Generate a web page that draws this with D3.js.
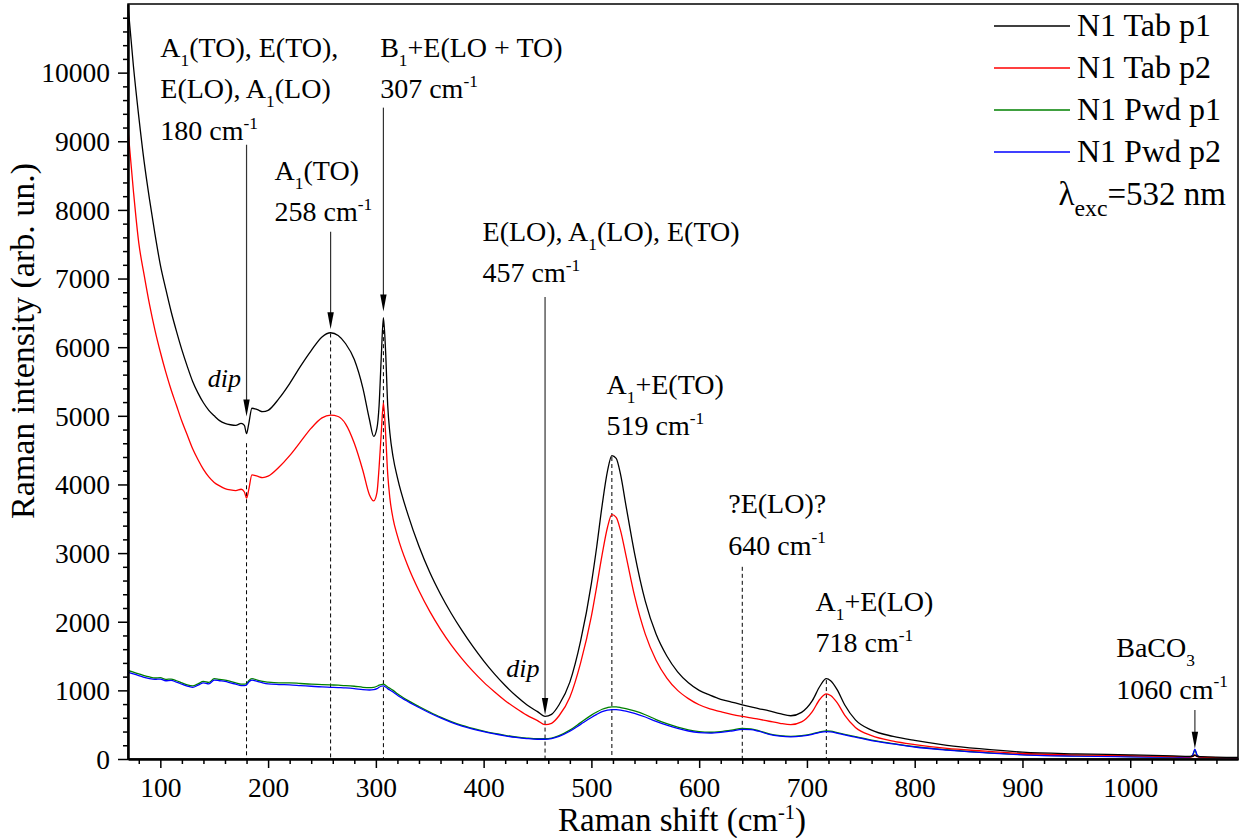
<!DOCTYPE html>
<html>
<head>
<meta charset="utf-8">
<script src="https://cdn.jsdelivr.net/npm/d3@7"></script>
<style>
  body { margin: 0; background: #fff; }
  svg text { font-family: "Liberation Serif", "Times New Roman", serif; fill: #000; white-space: pre; }
</style>
</head>
<body>
<svg id="chart" width="1246" height="838"></svg>
<script>
// Raman shift (cm-1), shared by all four spectra
const shift = [70,75,80,85,90,95,100,105,110,115,
  120,125,130,135,140,145,150,155,160,165,
  170,175,178,180,182,185,190,195,200,210,
  220,230,240,250,258,265,272,280,288,294,
  298,301,303,305,307,309,311,313,316,320,
  330,340,350,360,370,380,390,400,410,420,
  430,440,450,457,463,470,480,490,500,505,
  510,515,519,523,527,532,540,550,560,570,
  580,590,600,610,620,630,640,648,655,665,
  675,685,695,705,712,718,722,728,735,745,
  760,780,800,830,860,900,950,1000,1040,1055,
  1058,1060,1062,1065,1100]

const tabP1 = [10980,10100,9360,8700,8150,7650,7200,6850,6520,6230,
  5960,5720,5500,5330,5190,5080,5000,4930,4890,4870,
  4860,4890,4860,4740,4880,5110,5090,5060,5080,5250,
  5470,5720,5950,6150,6210,6170,6050,5820,5400,4950,
  4700,4820,5150,5850,6430,5950,5150,4750,4400,4100,
  3550,3100,2720,2400,2120,1870,1640,1430,1240,1070,
  920,790,690,620,650,790,1120,1720,2560,3100,
  3700,4200,4420,4380,4150,3700,3000,2300,1820,1500,
  1270,1110,1000,930,870,830,790,760,735,700,
  660,630,680,850,1060,1170,1140,1010,790,570,
  420,330,270,200,150,100,75,60,45,38,
  40,55,40,35,22]

const tabP2 = [9170,8280,7520,7050,6620,6250,5930,5640,5380,5150,
  4920,4720,4520,4360,4220,4110,4030,3980,3940,3920,
  3910,3930,3890,3800,3920,4140,4120,4100,4120,4250,
  4420,4620,4820,4970,5010,4990,4880,4600,4200,3850,
  3760,3880,4250,4750,5190,4750,4150,3800,3500,3250,
  2800,2450,2150,1890,1660,1460,1280,1120,980,850,
  740,640,560,500,520,630,900,1400,2080,2520,
  2980,3380,3560,3520,3330,2970,2380,1820,1440,1180,
  1000,880,790,730,690,650,620,600,580,550,
  520,500,540,690,870,950,925,820,640,460,
  340,260,210,155,120,80,60,48,36,30,
  35,60,35,28,15]

const pwdP1 = [1290,1265,1240,1215,1195,1180,1185,1160,1165,1140,
  1110,1080,1065,1095,1130,1115,1170,1160,1150,1130,
  1110,1090,1090,1100,1140,1170,1150,1130,1120,1110,
  1110,1100,1090,1085,1080,1075,1070,1060,1045,1040,
  1045,1060,1075,1085,1090,1075,1050,1030,1000,950,
  850,765,685,610,545,490,445,405,372,345,
  322,305,295,295,305,340,420,530,640,685,
  725,750,760,758,750,735,700,645,575,515,
  465,425,400,390,400,420,445,440,415,365,
  340,330,340,365,395,410,405,385,360,325,
  275,225,180,135,100,65,45,35,28,25,
  55,130,55,25,15]

const pwdP2 = [1265,1240,1215,1190,1170,1160,1165,1140,1145,1120,
  1090,1060,1045,1075,1110,1095,1150,1140,1130,1110,
  1090,1070,1070,1080,1120,1150,1130,1110,1095,1085,
  1080,1070,1060,1050,1045,1040,1035,1025,1010,1005,
  1010,1025,1045,1060,1065,1050,1025,1005,975,930,
  835,750,670,598,535,480,436,398,365,338,
  315,298,288,288,298,330,405,505,605,650,
  690,712,720,718,712,698,665,612,548,492,
  445,408,385,378,388,408,432,428,405,358,
  333,323,333,358,388,400,396,378,352,318,
  268,220,175,130,96,62,42,32,26,23,
  60,145,60,23,14]

const seriesNames = ['N1 Tab p1', 'N1 Tab p2', 'N1 Pwd p1', 'N1 Pwd p2']
const seriesValues = [tabP1, tabP2, pwdP1, pwdP2]
const seriesColors = ['#000000', '#ff0000', '#008000', '#0000ff']

const xMajor = [100, 200, 300, 400, 500, 600, 700, 800, 900, 1000]
const yMajor = [0, 1000, 2000, 3000, 4000, 5000, 6000, 7000, 8000, 9000, 10000]

// peak annotations: text blocks anchored in data units
const labelBlocks = [
  { x: 100, y: 10230, lines: ['A_{1}(TO), E(TO),', 'E(LO), A_{1}(LO)', '180 cm^{-1}'] },
  { x: 304, y: 10230, lines: ['B_{1}+E(LO + TO)', '307 cm^{-1}'] },
  { x: 206, y: 8437, lines: ['A_{1}(TO)', '258 cm^{-1}'] },
  { x: 399, y: 7552, lines: ['E(LO), A_{1}(LO), E(TO)', '457 cm^{-1}'] },
  { x: 514, y: 5318, lines: ['A_{1}+E(TO)', '519 cm^{-1}'] },
  { x: 627, y: 3584, lines: ['?E(LO)?', '640 cm^{-1}'] },
  { x: 708, y: 2157, lines: ['A_{1}+E(LO)', '718 cm^{-1}'] },
  { x: 987, y: 1486, lines: ['BaCO_{3}', '1060 cm^{-1}'] },
]
const dipLabels = [{ x: 144, y: 5420 }, { x: 421, y: 1195 }]

// arrows: wavenumber, start value, tip value
const arrows = [
  { x: 180, from: 8950, to: 4990 },
  { x: 258, from: 7680, to: 6260 },
  { x: 307, from: 9490, to: 6520 },
  { x: 457, from: 6730, to: 640 },
  { x: 1060, from: 714, to: 150 },
]
// dashed drop lines from the curve to the axis
const dropLines = [
  { x: 180, from: 4600 }, { x: 258, from: 6200 }, { x: 307, from: 6350 },
  { x: 457, from: 560 }, { x: 519, from: 4400 }, { x: 640, from: 2800 }, { x: 718, from: 1150 },
]

const svg = d3.select('#chart')
const pLeft = 128, pRight = 1238, pTop = 4, pBottom = 759

const x = d3.scaleLinear().domain([70, 1100]).range([pLeft, pRight])
const y = d3.scaleLinear().domain([0, 11000]).range([pBottom, pTop])

// rich text with _{sub} and ^{sup}
function rich(sel, str, fs, scale = 0.62, supRaise = 0.4) {
  const parts = str.split(/(_\{[^}]*\}|\^\{[^}]*\})/).filter((s) => s.length)
  let cur = 0
  parts.forEach((p) => {
    let t = p, size = fs, off = 0
    if (p.startsWith('_{')) { t = p.slice(2, -1); size = fs * scale; off = fs * 0.32 }
    else if (p.startsWith('^{')) { t = p.slice(2, -1); size = fs * scale; off = -fs * supRaise }
    sel.append('tspan').attr('dy', off - cur).attr('font-size', size).text(t)
    cur = off
  })
}

svg.append('defs').append('clipPath').attr('id', 'clip')
  .append('rect').attr('x', pLeft).attr('y', pTop).attr('width', pRight - pLeft).attr('height', pBottom - pTop)

// frame
svg.append('rect').attr('x', pLeft).attr('y', pTop).attr('width', pRight - pLeft).attr('height', pBottom - pTop)
  .attr('fill', 'none').attr('stroke', '#000').attr('stroke-width', 1.5)

// drop lines
svg.append('g').selectAll('line').data(dropLines).join('line')
  .attr('x1', (d) => x(d.x)).attr('x2', (d) => x(d.x))
  .attr('y1', (d) => y(d.from)).attr('y2', pBottom)
  .attr('stroke', '#000').attr('stroke-width', 1).attr('stroke-dasharray', '4,3')

// spectra
const line = d3.line().x((d, i) => x(shift[i])).y((d) => y(d)).curve(d3.curveMonotoneX)
const plot = svg.append('g').attr('clip-path', 'url(#clip)')
// black last so it stays on top, blue above green
const order = [2, 3, 1, 0]
order.forEach((k) => {
  plot.append('path').datum(seriesValues[k])
    .attr('d', line).attr('fill', 'none')
    .attr('stroke', seriesColors[k]).attr('stroke-width', 1.3)
})

// arrows
const ag = svg.append('g')
arrows.forEach((a) => {
  const px = x(a.x), tip = y(a.to)
  ag.append('line').attr('x1', px).attr('x2', px).attr('y1', y(a.from)).attr('y2', tip - 14)
    .attr('stroke', '#333').attr('stroke-width', 1.2)
  ag.append('path').attr('d', `M${px - 3.2},${tip - 17}L${px},${tip}L${px + 3.2},${tip - 17}Z`)
    .attr('fill', '#000')
})

// axes
svg.append('g').attr('transform', `translate(0,${pBottom})`)
  .call(d3.axisBottom(x).tickValues(xMajor).tickSize(9).tickSizeOuter(0).tickPadding(9).tickFormat(d3.format('d')))
svg.append('g').attr('transform', `translate(0,${pBottom})`)
  .call(d3.axisBottom(x).tickValues(d3.range(80, 1100, 20).filter((v) => v % 100)).tickSize(5).tickSizeOuter(0).tickFormat(''))
const yAxis = svg.append('g').attr('transform', `translate(${pLeft},0)`)
  .call(d3.axisLeft(y).tickValues(yMajor).tickSize(10).tickSizeOuter(0).tickPadding(8).tickFormat(d3.format('d')))
svg.append('g').attr('transform', `translate(${pLeft},0)`)
  .call(d3.axisLeft(y).tickValues(d3.range(200, 11000, 200).filter((v) => v % 1000)).tickSize(5).tickSizeOuter(0).tickFormat(''))

svg.selectAll('.domain').attr('stroke-width', 2)
svg.selectAll('.tick line').attr('stroke-width', 1.5)
svg.selectAll('.tick text').attr('font-size', 27.5).attr('font-family', '"Liberation Serif", serif')
yAxis.selectAll('.tick text').attr('dy', '0.34em')

// axis titles
const xt = svg.append('text').attr('x', 682).attr('y', 831).attr('text-anchor', 'middle').attr('font-size', 33)
rich(xt, 'Raman shift (cm^{-1})', 33, 0.62, 0.36)

svg.append('text').attr('transform', 'translate(34,341) rotate(-90)')
  .attr('text-anchor', 'middle').attr('font-size', 34).text('Raman intensity (arb. un.)')

// annotations
const lineGap = 41.5
labelBlocks.forEach((b) => {
  b.lines.forEach((ln, i) => {
    const t = svg.append('text').attr('x', x(b.x)).attr('y', y(b.y) + i * lineGap).attr('font-size', 28)
    rich(t, ln, 28)
  })
})
svg.append('g').selectAll('text').data(dipLabels).join('text')
  .attr('x', (d) => x(d.x)).attr('y', (d) => y(d.y))
  .attr('font-size', 26).attr('font-style', 'italic').text('dip')

// legend
const lg = svg.append('g')
seriesNames.forEach((name, i) => {
  const ly = 26 + i * 42
  lg.append('line').attr('x1', 994).attr('x2', 1070).attr('y1', ly).attr('y2', ly)
    .attr('stroke', seriesColors[i]).attr('stroke-width', 1.3)
  lg.append('text').attr('x', 1077).attr('y', ly + 10).attr('font-size', 32).text(name)
})
const lam = lg.append('text').attr('x', 1226).attr('y', 205).attr('text-anchor', 'end').attr('font-size', 33)
rich(lam, 'λ_{exc}=532 nm', 33, 0.72)
</script>
</body>
</html>
